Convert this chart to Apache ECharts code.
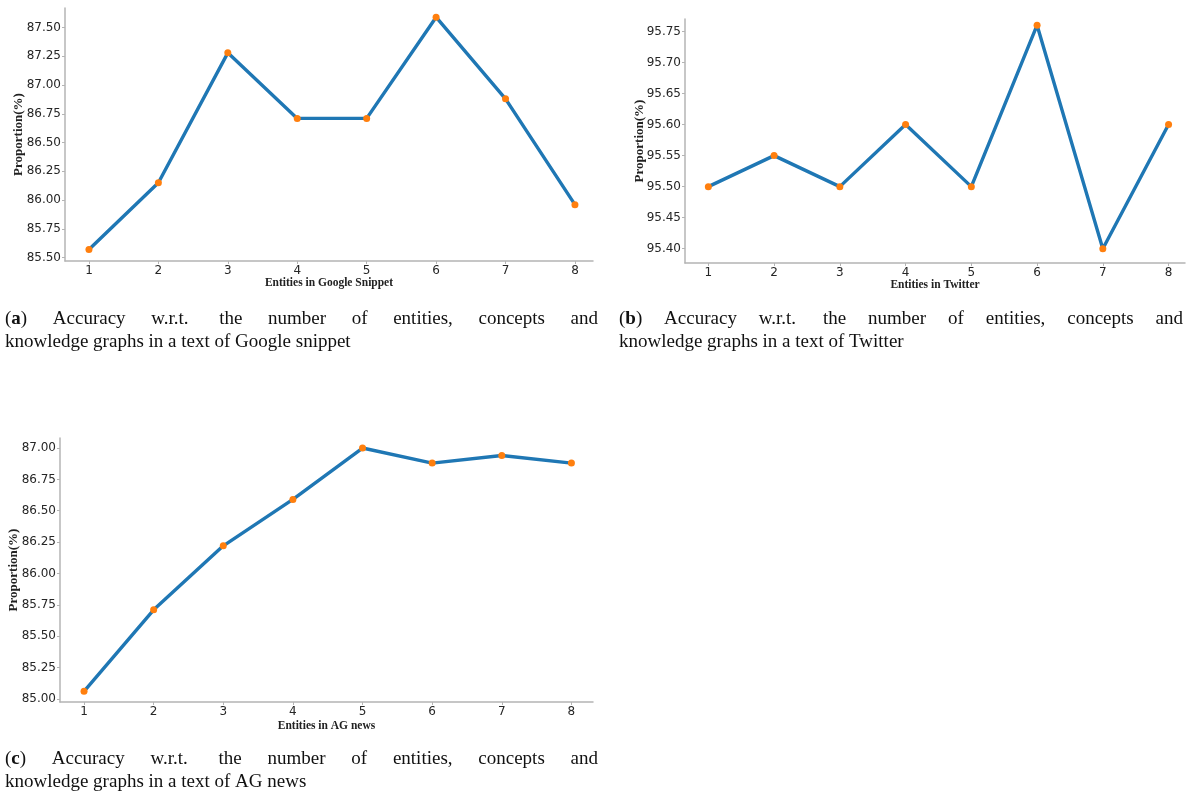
<!DOCTYPE html>
<html>
<head>
<meta charset="utf-8">
<script src="https://cdn.jsdelivr.net/npm/echarts@6/dist/echarts.min.js"></script>
<style>
  html, body { margin: 0; padding: 0; background: #fff; }
  #main { width: 1188px; height: 796px; }
</style>
</head>
<body>
<div id="main"></div>
<script>
// x positions (number of entities)
const entityCounts = [1, 2, 3, 4, 5, 6, 7, 8];

// accuracy values
const googleVals = [85.57, 86.15, 87.28, 86.71, 86.71, 87.59, 86.88, 85.96];
const twitterVals = [95.50, 95.55, 95.50, 95.60, 95.50, 95.76, 95.40, 95.60];
const agVals = [85.06, 85.71, 86.22, 86.59, 87.00, 86.88, 86.94, 86.88];

// y tick labels
const googleTicks = [85.50, 85.75, 86.00, 86.25, 86.50, 86.75, 87.00, 87.25, 87.50];
const twitterTicks = [95.40, 95.45, 95.50, 95.55, 95.60, 95.65, 95.70, 95.75];
const agTicks = [85.00, 85.25, 85.50, 85.75, 86.00, 86.25, 86.50, 86.75, 87.00];

const xTitles = ['Entities in Google Snippet', 'Entities in Twitter', 'Entities in AG news'];
const yTitle = 'Proportion(%)';
const captionTags = ['a', 'b', 'c'];
const captionWords = ['Accuracy', 'w.r.t.', 'the', 'number', 'of', 'entities,', 'concepts', 'and'];
const captionSecond = [
  'knowledge graphs in a text of Google snippet',
  'knowledge graphs in a text of Twitter',
  'knowledge graphs in a text of AG news'
];

const LINE = '#1f77b4';
const DOT = '#ff7f0e';
const AXIS = '#b4b4b4';
const SERIF = '"Liberation Serif", "Times New Roman", serif';

// panel layout: grid box, axis extents, name gaps
const panels = [
  { grid: { left: 65, top: 8, width: 528, height: 253 }, ymin: 85.47, ymax: 87.67, xmin: 0.655, xmax: 8.26, ticks: googleTicks, vals: googleVals, yGap: 40, xGap: 16 },
  { grid: { left: 685, top: 19, width: 500, height: 244 }, ymin: 95.377, ymax: 95.77, xmin: 0.645, xmax: 8.25, ticks: twitterTicks, vals: twitterVals, yGap: 39, xGap: 16 },
  { grid: { left: 60, top: 438, width: 533, height: 264 }, ymin: 84.975, ymax: 87.08, xmin: 0.655, xmax: 8.31, ticks: agTicks, vals: agVals, yGap: 40, xGap: 18 }
];

const xAxis = [], yAxis = [], grid = [], series = [];
panels.forEach((p, i) => {
  grid.push(p.grid);
  xAxis.push({
    type: 'value', gridIndex: i, min: p.xmin, max: p.xmax,
    name: xTitles[i], nameLocation: 'middle', nameGap: p.xGap, nameMoveOverlap: false,
    nameTextStyle: { fontFamily: SERIF, fontWeight: 'bold', fontSize: 11.5, color: '#222' },
    axisLine: { show: true, lineStyle: { color: AXIS, width: 1.5 } },
    axisTick: { show: true, length: 3, customValues: entityCounts, lineStyle: { color: AXIS } },
    axisLabel: { customValues: entityCounts, margin: 4, fontFamily: 'DejaVu Sans', fontSize: 12, color: '#262626' },
    splitLine: { show: false }
  });
  yAxis.push({
    type: 'value', gridIndex: i, min: p.ymin, max: p.ymax,
    name: yTitle, nameLocation: 'middle', nameRotate: 90, nameGap: p.yGap, nameMoveOverlap: false,
    nameTextStyle: { fontFamily: SERIF, fontWeight: 'bold', fontSize: 13, color: '#222' },
    axisLine: { show: true, lineStyle: { color: AXIS, width: 1.5 } },
    axisTick: { show: true, length: 3, customValues: p.ticks, lineStyle: { color: AXIS } },
    axisLabel: {
      customValues: p.ticks, margin: 4, fontFamily: 'DejaVu Sans', fontSize: 12, color: '#262626',
      formatter: v => v.toFixed(2)
    },
    splitLine: { show: false }
  });
  series.push({
    type: 'line', xAxisIndex: i, yAxisIndex: i,
    data: entityCounts.map((x, k) => [x, p.vals[k]]),
    symbol: 'circle', symbolSize: 7,
    itemStyle: { color: DOT },
    lineStyle: { color: LINE, width: 3.4 },
    z: 3
  });
});

// captions: first line justified like the LaTeX source
const ctx = document.createElement('canvas').getContext('2d');
function measure(text, bold) {
  ctx.font = (bold ? 'bold ' : '') + '19px ' + SERIF;
  return ctx.measureText(text).width;
}
const captionBoxes = [
  { x0: 5, x1: 598, y: 319 },
  { x0: 619, x1: 1183, y: 319 },
  { x0: 5, x1: 598, y: 759 }
];
const graphic = [];
captionBoxes.forEach((b, i) => {
  const tagW = measure('()') + measure(captionTags[i], true);
  const widths = captionWords.map(w => measure(w));
  const total = tagW + widths.reduce((a, c) => a + c, 0);
  const extra = 5; // wider sentence space after "w.r.t."
  const gap = (b.x1 - b.x0 - total - extra) / captionWords.length;
  const base = { fontSize: 19, fontFamily: SERIF, fill: '#111', verticalAlign: 'middle' };
  graphic.push({
    type: 'text', x: b.x0, y: b.y,
    style: Object.assign({ text: '(' + '{b|' + captionTags[i] + '})', rich: { b: { fontWeight: 'bold', fontSize: 19, fontFamily: SERIF } } }, base)
  });
  let x = b.x0 + tagW + gap;
  captionWords.forEach((w, k) => {
    graphic.push({ type: 'text', x: x, y: b.y, style: Object.assign({ text: w }, base) });
    x += widths[k] + gap + (w === 'w.r.t.' ? extra : 0);
  });
  graphic.push({ type: 'text', x: b.x0, y: b.y + 23, style: Object.assign({ text: captionSecond[i] }, base) });
});

const chart = echarts.init(document.getElementById('main'), null, { renderer: 'canvas' });
chart.setOption({
  animation: false,
  backgroundColor: '#fff',
  grid: grid,
  xAxis: xAxis,
  yAxis: yAxis,
  series: series,
  graphic: graphic
});
</script>
</body>
</html>
